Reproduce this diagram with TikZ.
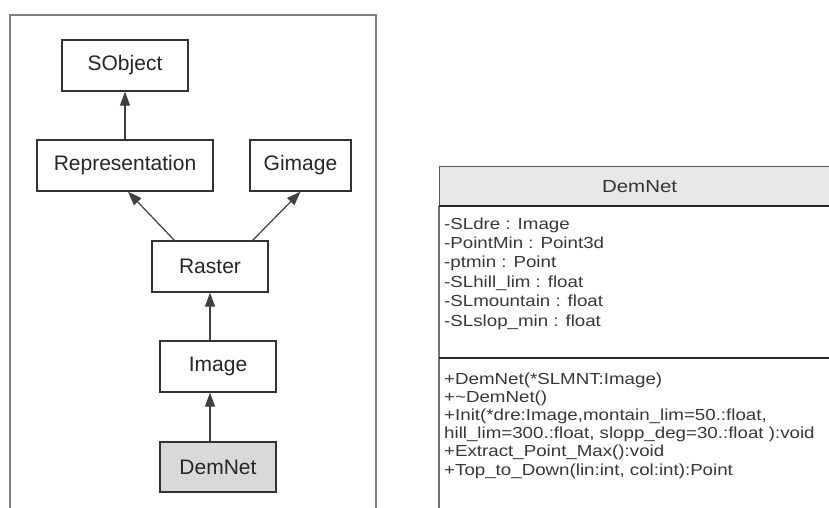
\documentclass[tikz,border=0pt]{standalone}
\usepackage{fontspec}
\setmainfont{Liberation Sans}
\newfontfamily\umlfont[FakeStretch=1.17]{Liberation Sans}
\usetikzlibrary{arrows.meta,calc}
\begin{document}
\begin{tikzpicture}[x=1pt,y=-1pt,
  cls/.style={draw=black!80, line width=1.3pt, fill=white, minimum height=51pt,
    inner sep=0pt, font=\fontsize{21}{24}\selectfont, text=black!85},
  inh/.style={draw=black!75, line width=1.2pt, -{Triangle[length=14pt,width=10pt]}},
  attr/.style={anchor=west, inner sep=0pt, text height=11.5pt, text depth=3.5pt,
    font=\umlfont\fontsize{16}{19}\selectfont, text=black!78}]
\useasboundingbox (0,0) rectangle (829,508);
\fill[white] (0,0) rectangle (829,508);
% left frame
\draw[black!50, line width=2pt] (10,508) -- (10,15) -- (376,15) -- (376,508);
% class hierarchy
\node[cls, minimum width=126pt] (sobj) at (125,65.5) {SObject};
\node[cls, minimum width=176pt] (repr) at (125,165.5) {Representation};
\node[cls, minimum width=101pt] (gim) at (300.5,165.5) {Gimage};
\node[cls, minimum width=116pt] (ras) at (210,266.5) {Raster};
\node[cls, minimum width=116pt] (img) at (218,366.5) {Image};
\node[cls, minimum width=116pt, minimum height=50pt, fill=black!15] (dem) at (218,467) {DemNet};
\draw[inh] (repr.north) -- (sobj.south);
\draw[inh] ($(ras.north west)+(23,0)$) -- ($(repr.south)+(3,0)$);
\draw[inh] ($(ras.north east)+(-16,0)$) -- (gim.south);
\draw[inh] (img.north -| ras.south) -- (ras.south);
\draw[inh] (dem.north -| ras.south) -- (img.south -| ras.south);
% UML class box
\node[draw=black!65, line width=1.2pt, fill=black!9, minimum width=400pt, minimum height=39pt,
  anchor=north west, inner sep=0pt, text=black!80,
  font=\umlfont\fontsize{17.5}{20}\selectfont] (hdr) at (439,166) {DemNet};
\draw[black!55, line width=2.5pt] (hdr.south west) -- (439,508);
\draw[black!85, line width=1.5pt] (hdr.south west) -- (hdr.south east);
\draw[black!85, line width=1.5pt] (439,358) -- (829,358);
\node[attr] (a1) at (444,225) {-SLdre : Image};
\node[attr] (a2) at (444,244.4) {-PointMin : Point3d};
\node[attr] (a3) at (444,263.8) {-ptmin : Point};
\node[attr] (a4) at (444,283.2) {-SLhill\_lim : float};
\node[attr] (a5) at (444,302.6) {-SLmountain : float};
\node[attr] (a6) at (444,322) {-SLslop\_min : float};
\node[attr] (m1) at (444,380) {+DemNet(*SLMNT:Image)};
\node[attr] (m2) at (444,398.2) {+\textasciitilde DemNet()};
\node[attr] (m3) at (444,416.4) {+Init(*dre:Image,montain\_lim=50.:float,};
\node[attr] (m4) at (444,434.6) {hill\_lim=300.:float, slopp\_deg=30.:float ):void};
\node[attr] (m5) at (444,452.8) {+Extract\_Point\_Max():void};
\node[attr] (m6) at (444,471) {+Top\_to\_Down(lin:int, col:int):Point};
\end{tikzpicture}
\end{document}
